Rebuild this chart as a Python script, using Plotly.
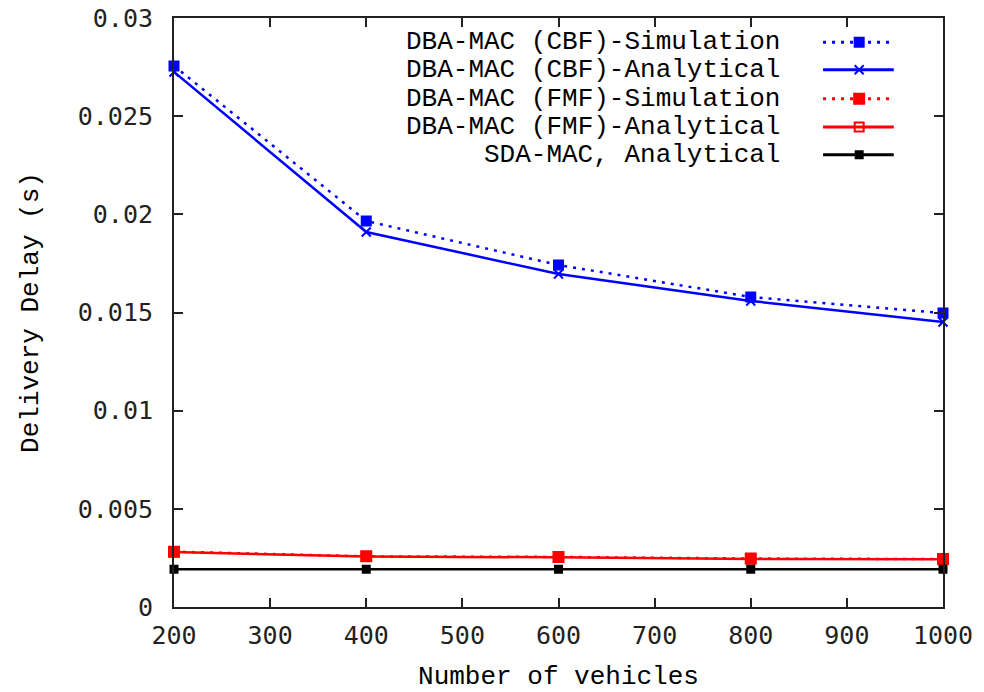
import plotly.graph_objects as go

# data
vehicles = [200, 400, 600, 800, 1000]
cbf_sim = [0.02756, 0.01966, 0.01742, 0.01579, 0.01497]
cbf_ana = [0.02725, 0.01910, 0.01696, 0.01559, 0.01452]
fmf_sim = [0.00282, 0.00258, 0.00255, 0.00247, 0.00244]
fmf_ana = [0.00280, 0.00257, 0.00253, 0.00245, 0.00243]
sda_ana = [0.00192, 0.00192, 0.00192, 0.00192, 0.00192]

names = ["DBA-MAC (CBF)-Simulation", "DBA-MAC (CBF)-Analytical",
         "DBA-MAC (FMF)-Simulation", "DBA-MAC (FMF)-Analytical",
         "SDA-MAC, Analytical"]

BLUE = "#0000ff"
RED = "#ff0000"
BLACK = "#000000"
DOT = "3px,6px"

styles = [
    dict(color=BLUE, dash=DOT, symbol="square", size=9),
    dict(color=BLUE, dash="solid", symbol="x-thin", size=9),
    dict(color=RED, dash=DOT, symbol="square", size=10),
    dict(color=RED, dash="solid", symbol="square-open", size=9),
    dict(color=BLACK, dash="solid", symbol="square", size=7),
]
series = [cbf_sim, cbf_ana, fmf_sim, fmf_ana, sda_ana]

fig = go.Figure()

for name, ys, st in zip(names, series, styles):
    fig.add_trace(go.Scatter(
        x=vehicles, y=ys, name=name, mode="lines+markers",
        line=dict(color=st["color"], width=2.5, dash=st["dash"]),
        marker=dict(symbol=st["symbol"], size=st["size"], color=st["color"],
                    line=dict(color=st["color"], width=2)),
        cliponaxis=False, showlegend=False,
    ))

# gnuplot-style key: text right-aligned, sample to the right of it
key_rows = [0.959, 0.912, 0.863, 0.815, 0.768]
key_text_x = 0.791
key_line = [0.844, 0.936]
key_mark = 0.891
for name, st, ky in zip(names, styles, key_rows):
    fig.add_trace(go.Scatter(
        x=key_line, y=[ky, ky], mode="lines", xaxis="x2", yaxis="y2",
        line=dict(color=st["color"], width=3, dash=st["dash"]),
        showlegend=False, hoverinfo="skip",
    ))
    fig.add_trace(go.Scatter(
        x=[key_mark], y=[ky], mode="markers", xaxis="x2", yaxis="y2",
        marker=dict(symbol=st["symbol"], size=st["size"], color=st["color"],
                    line=dict(color=st["color"], width=2)),
        showlegend=False, hoverinfo="skip", cliponaxis=False,
    ))
    fig.add_annotation(
        text=name, xref="paper", yref="paper", x=key_text_x, y=ky,
        xanchor="right", yanchor="middle", showarrow=False,
        font=dict(family="Liberation Mono", size=26, color=BLACK),
    )

axis_common = dict(
    showline=True, linecolor="#222222", linewidth=2, mirror="ticks",
    ticks="inside", ticklen=9, tickwidth=1.5, tickcolor="#222222",
    showgrid=False, zeroline=False, automargin=False,
    ticklabeloverflow="allow",
    tickfont=dict(family="DejaVu Sans Mono", size=25, color="#222222"),
)

# page body has an 8px margin, so the figure is kept 8px smaller
fig.update_layout(
    width=976, height=684,
    margin=dict(l=166, r=41, t=10, b=85),
    plot_bgcolor="white", paper_bgcolor="white",
    xaxis=dict(
        range=[200, 1000], tickvals=[200, 300, 400, 500, 600, 700, 800, 900, 1000],
        ticklabelstandoff=5,
        title=dict(text="Number of vehicles", standoff=19,
                   font=dict(family="Liberation Mono", size=26, color=BLACK)),
        **axis_common,
    ),
    yaxis=dict(
        range=[0, 0.03], tickvals=[0, 0.005, 0.01, 0.015, 0.02, 0.025, 0.03],
        ticktext=["0", "0.005", "0.01", "0.015", "0.02", "0.025", "0.03"],
        ticklabelstandoff=14,
        title=dict(text="Delivery Delay (s)", standoff=32,
                   font=dict(family="Liberation Mono", size=26, color=BLACK)),
        **axis_common,
    ),
    xaxis2=dict(range=[0, 1], domain=[0, 1], overlaying="x", visible=False,
                fixedrange=True),
    yaxis2=dict(range=[0, 1], domain=[0, 1], overlaying="y", visible=False,
                fixedrange=True),
)

fig.write_html("out.html")
